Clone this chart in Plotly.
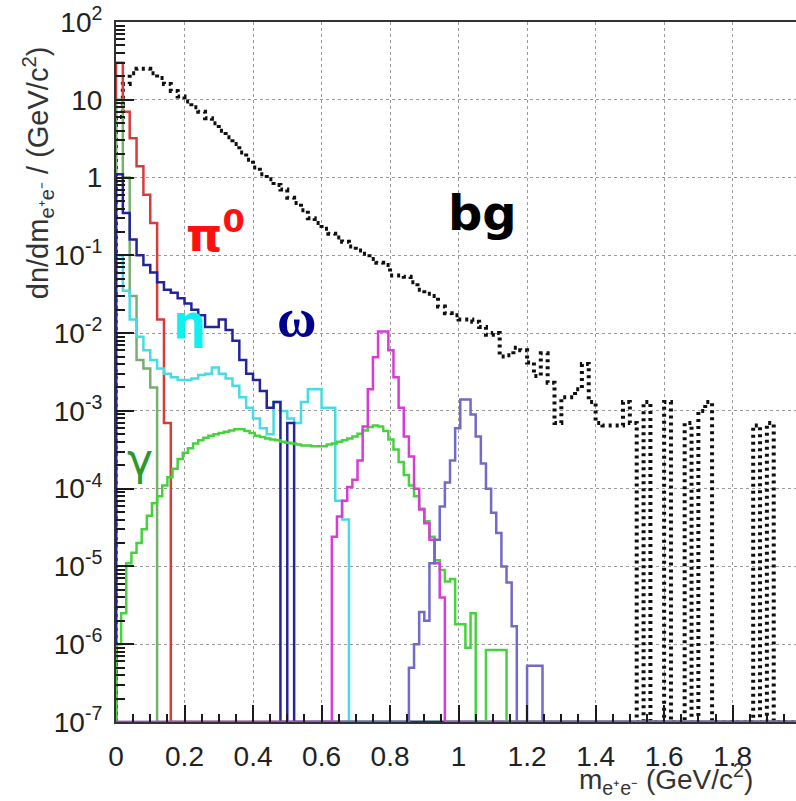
import numpy as np
import plotly.graph_objects as go

# ---------------- data (dn/dm in 1/(GeV/c^2)) ----------------
Y_MIN_EXP, Y_MAX_EXP = -7, 2
FLOOR = 10.0 ** Y_MIN_EXP
X_MAX = 1.985

W_COARSE = 0.02   # bin width GeV/c^2
W_FINE = 0.015

# pi0 Dalitz (red)
pi0_start = 0.0
pi0_vals = [30, 7, 3.2, 1.4, 0.6, 0.26, 0.015, 7e-4]

# photon conversions (grey-green)
gconv_start = 0.0
gconv_vals = [10, 1.0, 0.03, 4.5e-3, 3.5e-3, 2e-3]

# eta Dalitz (cyan)
eta_start = 0.0
eta_vals = [0.1, 0.035, 0.015, 0.009, 0.006, 0.0045, 0.0035, 0.003, 0.0027, 0.0025,
            0.0025, 0.0026, 0.0029, 0.003, 0.0036, 0.003, 0.0026, 0.0021, 0.0015, 0.0011,
            8e-4, 6e-4, 5e-4, 1.3e-3, 1e-3, 8e-4, 7e-4, 1.3e-3, 1.9e-3, 1.9e-3,
            1.1e-3, 1.1e-3, 7e-5, 4e-5]

# omega Dalitz (dark blue)
omd_start = 0.0
omd_vals = [1.1, 0.35, 0.16, 0.1, 0.075, 0.06, 0.045, 0.036, 0.033, 0.028,
            0.024, 0.02, 0.017, 0.012, 0.012, 0.015, 0.011, 0.008, 0.0045, 0.003,
            0.0025, 0.0018, 0.0011, 0.0013, 0, 7e-4]

# virtual photon continuum (bright green)
gam_start = 0.0
gam_vals = [1e-6, 2.5e-6, 1.1e-5, 1.5e-5, 2e-5, 3e-5, 4.5e-5, 6.5e-5, 8e-5, 1.1e-4,
            1.4e-4, 1.8e-4, 2.4e-4, 2.9e-4, 3.3e-4, 3.8e-4, 4.2e-4, 4.5e-4, 4.8e-4, 5.0e-4,
            5.2e-4, 5.4e-4, 5.6e-4, 5.8e-4, 5.8e-4, 5.5e-4, 5.2e-4, 4.8e-4, 4.6e-4, 4.4e-4,
            4.3e-4, 4.2e-4, 4.0e-4, 3.9e-4, 3.8e-4, 3.7e-4, 3.6e-4, 3.6e-4, 3.5e-4, 3.5e-4,
            3.5e-4, 3.7e-4, 3.8e-4, 4.0e-4, 4.2e-4, 4.4e-4, 4.7e-4, 5.1e-4, 5.6e-4, 6.2e-4,
            6.5e-4, 6.3e-4, 5.5e-4, 4.3e-4, 3.2e-4, 2.2e-4, 1.5e-4, 1.1e-4, 8e-5, 5.5e-5,
            3.8e-5, 2.4e-5, 1.2e-5, 9e-6, 6.4e-6, 6.9e-6, 1.8e-6, 1.8e-6, 9e-7, 2.5e-6,
            0, 0, 8.4e-7, 8.4e-7, 8.4e-7, 8.4e-7]

# omega -> e+e- (magenta)
om_start = 0.63
om_vals = [2.4e-5, 4.4e-5, 7e-5, 1.05e-4, 1.3e-4, 2.3e-4, 6.3e-4, 1.9e-3, 4.9e-3, 0.0105,
           0.0105, 6e-3, 2.7e-3, 1.1e-3, 4.7e-4, 2.6e-4, 1e-4, 5.4e-5, 3.6e-5, 2.2e-5,
           1.1e-5, 4e-6]

# phi -> e+e- (slate purple)
phi_start = 0.855
phi_vals = [5e-7, 1e-6, 2.6e-6, 2e-6, 1.1e-5, 2.2e-5, 5.9e-5, 1.2e-4, 2.3e-4, 6e-4,
            1.4e-3, 1.4e-3, 9e-4, 4.7e-4, 2.1e-4, 1e-4, 4.9e-5, 2.7e-5, 1e-5, 6.2e-6,
            1.7e-6, 0, 0, 5.3e-7, 5.3e-7, 5.3e-7]

# combinatorial background (black dotted)
bg_start = 0.0
bg_vals = [6, 16, 22, 25, 25, 22, 19, 16, 13, 11,
           9.5, 8, 7, 5.8, 5, 4, 3.3, 2.7, 2.1, 1.7,
           1.35, 1.1, 0.95, 0.8, 0.7, 0.55, 0.47, 0.38, 0.3, 0.26,
           0.22, 0.19, 0.17, 0.15, 0.13, 0.115, 0.105, 0.09, 0.08, 0.075,
           0.055, 0.055, 0.053, 0.045, 0.036, 0.032, 0.03, 0.022, 0.018, 0.017,
           0.015, 0.015, 0.014, 0.012, 0.0095, 0.01, 0.005, 0.0052, 0.0065, 0.006,
           0.0042, 0.0028, 0.0055, 0.0023, 7e-4, 1.5e-3, 1.5e-3, 1.9e-3, 4e-3, 1.3e-3,
           7e-4, 6.5e-4, 6.5e-4, 6.5e-4, 1.3e-3, 7e-4, 0, 1.3e-3, 0, 0,
           1.3e-3, 0, 0, 7e-4, 0, 1e-3, 1.3e-3, 0, 0, 0,
           0, 0, 0, 6.5e-4, 0, 7e-4, 0, 0, 0]

y_tick_exps = list(range(Y_MIN_EXP, Y_MAX_EXP + 1))
x_tick_vals = [0, 0.2, 0.4, 0.6, 0.8, 1.0, 1.2, 1.4, 1.6, 1.8]
x_tick_text = ["0", "0.2", "0.4", "0.6", "0.8", "1", "1.2", "1.4", "1.6", "1.8"]
x_minor_step = 0.05


def step_xy(start, width, vals):
    edges = start + width * np.arange(len(vals) + 1)
    xs, ys = [0.0, start], [FLOOR, FLOOR]
    for i, v in enumerate(vals):
        v = v if v > 0 else FLOOR
        xs += [edges[i], edges[i + 1]]
        ys += [v, v]
    xs += [edges[-1], 2.0]
    ys += [FLOOR, FLOOR]
    return xs, ys


series = [
    ("bg", bg_start, W_COARSE, bg_vals, "rgb(15,15,15)", 4, "3px,4px"),
    ("pi0", pi0_start, W_COARSE, pi0_vals, "rgb(215,60,60)", 2.5, "solid"),
    ("gconv", gconv_start, W_COARSE, gconv_vals, "rgb(120,175,110)", 2.5, "solid"),
    ("eta", eta_start, W_COARSE, eta_vals, "rgb(70,220,225)", 2.5, "solid"),
    ("omega dalitz", omd_start, W_COARSE, omd_vals, "rgb(35,35,155)", 2.5, "solid"),
    ("gamma", gam_start, W_FINE, gam_vals, "rgb(70,210,60)", 2.5, "solid"),
    ("omega", om_start, W_FINE, om_vals, "rgb(215,60,215)", 2.5, "solid"),
    ("phi", phi_start, W_FINE, phi_vals, "rgb(115,105,200)", 2.5, "solid"),
]

fig = go.Figure()
for name, st, w, vals, col, lw, dash in series:
    xs, ys = step_xy(st, w, vals)
    fig.add_trace(go.Scatter(x=xs, y=ys, mode="lines", name=name,
                             line=dict(color=col, width=lw, dash=dash),
                             hoverinfo="skip", showlegend=False))

# invisible trace to attach the minor-tick overlay axes
fig.add_trace(go.Scatter(x=[None], y=[None], xaxis="x2", yaxis="y2", mode="lines",
                         showlegend=False, hoverinfo="skip"))

tick_font = dict(family="Liberation Sans, Arial, sans-serif", size=28, color="#222")
TICK_COL = "#1a1a1a"


def ytxt(e):
    if e == 0:
        return "1"
    if e == 1:
        return "10"
    return "10<sup>%d</sup>" % e


y_minor = [k * 10.0 ** e for e in range(Y_MIN_EXP, Y_MAX_EXP) for k in range(2, 10)]
x_minor = [round(i * x_minor_step, 3) for i in range(int(2.0 / x_minor_step) + 1)]

fig.update_layout(
    width=796, height=801,
    margin=dict(l=116, r=0, t=22, b=79),
    paper_bgcolor="white", plot_bgcolor="white",
    xaxis=dict(range=[0, X_MAX], tickmode="array", tickvals=x_tick_vals, ticktext=x_tick_text,
               ticks="inside", ticklen=17, tickwidth=2, tickcolor=TICK_COL,
               showline=True, linecolor="#333", linewidth=2, mirror=True,
               showgrid=True, gridcolor="#9a9a9a", griddash="dot", gridwidth=1,
               zeroline=False, tickfont=tick_font, ticklabelstandoff=8),
    yaxis=dict(type="log", range=[Y_MIN_EXP, Y_MAX_EXP], tickmode="array",
               tickvals=[10.0 ** e for e in y_tick_exps], ticktext=[ytxt(e) for e in y_tick_exps],
               ticks="inside", ticklen=18, tickwidth=2, tickcolor=TICK_COL,
               showline=True, linecolor="#333", linewidth=2,
               showgrid=True, gridcolor="#9a9a9a", griddash="dot", gridwidth=1,
               zeroline=False, tickfont=tick_font, ticklabelstandoff=6),
    xaxis2=dict(overlaying="x", side="bottom", range=[0, X_MAX], tickmode="array",
                tickvals=x_minor, ticks="inside", ticklen=8, tickwidth=2, tickcolor=TICK_COL,
                showticklabels=False, showgrid=False, zeroline=False, showline=False),
    yaxis2=dict(overlaying="y", side="left", type="log", range=[Y_MIN_EXP, Y_MAX_EXP],
                tickmode="array", tickvals=y_minor, ticks="inside", ticklen=9, tickwidth=2,
                tickcolor=TICK_COL, showticklabels=False, showgrid=False, zeroline=False,
                showline=False),
)

fig.add_annotation(xref="paper", yref="paper", x=-0.1147, y=0.784, textangle=-90,
                   text="dn/dm<sub>e⁺e⁻</sub> / (GeV/c<sup>2</sup>)", showarrow=False,
                   xanchor="center", yanchor="middle",
                   font=dict(family="Liberation Sans, Arial, sans-serif", size=29, color="#333"))
fig.add_annotation(xref="paper", yref="paper", x=0.678, y=-0.082,
                   text="m<sub>e⁺e⁻</sub> (GeV/c<sup>2</sup>)", showarrow=False,
                   xanchor="left", yanchor="middle",
                   font=dict(family="Liberation Sans, Arial, sans-serif", size=28, color="#333"))

labels = [
    ("π<sup>0</sup>", 0.289, -0.70, "#ff1010", "DejaVu Sans", 46, True),
    ("η", 0.216, -1.86, "#10f0f0", "DejaVu Sans", 46, True),
    ("ω", 0.528, -1.80, "#000090", "Liberation Serif", 54, True),
    ("γ", 0.07, -3.63, "#2a9a2a", "DejaVu Sans", 44, False),
    ("bg", 1.071, -0.455, "#000000", "DejaVu Sans", 48, True),
]
for txt, x, ly, col, fam, sz, bold in labels:
    t = "<b>%s</b>" % txt if bold else txt
    fig.add_annotation(x=x, y=ly, xref="x", yref="y", text=t, showarrow=False,
                       font=dict(family=fam, size=sz, color=col),
                       xanchor="center", yanchor="middle")

fig.write_html("out.html")
